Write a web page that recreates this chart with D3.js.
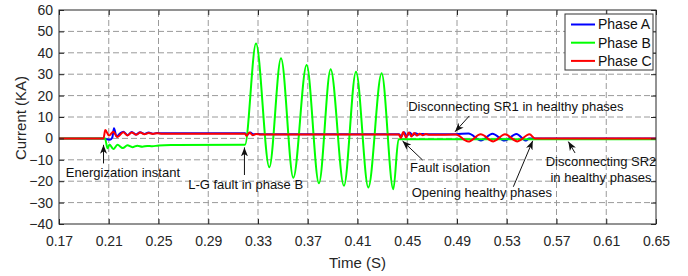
<!DOCTYPE html>
<html><head><meta charset="utf-8">
<script src="https://cdn.jsdelivr.net/npm/d3@7"></script>
<style>body{margin:0;background:#fff} text{font-family:Arial,"Liberation Sans",sans-serif}</style>
</head><body><svg id="chart" width="688" height="276"></svg>
<script>
// ---- data ----
const xTicks = [0.17,0.21,0.25,0.29,0.33,0.37,0.41,0.45,0.49,0.53,0.57,0.61,0.65];
const xTickLabels = ["0.17","0.21","0.25","0.29","0.33","0.37","0.41","0.45","0.49","0.53","0.57","0.61","0.65"];
const yTicks = [-40,-30,-20,-10,0,10,20,30,40,50,60];
const seriesNames = ["Phase A","Phase B","Phase C"];
const seriesColors = ["#0000ff","#00ff00","#ff0000"];

// [time (s), current (kA)]
const phaseA = [[0.17,0],[0.2062,0],[0.2082,-0.4],[0.2110,-0.6],[0.2128,0.3],[0.2142,4.7],[0.2163,0.9],[0.2190,2.3],[0.2217,3.1],[0.2251,1.5],[0.2285,3.0],[0.2319,1.8],[0.2353,2.9],[0.2387,2.1],[0.2421,2.7],[0.2455,2.2],[0.2489,2.5],[0.2530,2.35],[0.3195,2.35],[0.3212,1.7],[0.3238,2.8],[0.3262,1.9],[0.3290,2.1],[0.3320,1.95],[0.4435,1.95],[0.4452,0.8],[0.4474,2.9],[0.4497,1.1],[0.4520,2.7],[0.4543,1.5],[0.4567,2.4],[0.4590,1.8],[0.4615,2.1],[0.4640,1.95],[0.4889,1.95],[0.4992,2.3],[0.5093,-1.0],[0.5185,2.2],[0.5282,-1.0],[0.5378,2.1],[0.5455,-1.0],[0.5480,0],[0.65,0]];
const phaseB = [[0.17,0],[0.2070,0],[0.2090,-4.6],[0.2106,-2.8],[0.2137,-5.0],[0.2170,-3.0],[0.2213,-4.5],[0.2250,-3.2],[0.2290,-4.1],[0.2330,-3.4],[0.2370,-3.9],[0.2410,-3.5],[0.2450,-3.7],[0.2500,-3.3],[0.2600,-3.1],[0.3195,-3.0],[0.3284,44.4],[0.3391,-13.5],[0.3485,37.4],[0.3584,-18.4],[0.3691,34.3],[0.3790,-21.0],[0.3884,32.3],[0.3991,-22.1],[0.4088,31.2],[0.4187,-22.9],[0.4294,30.4],[0.4388,-23.8],[0.4430,-0.4],[0.65,-0.4]];
const phaseC = [[0.17,0],[0.2058,0],[0.2072,3.9],[0.2102,1.3],[0.2137,3.1],[0.2169,0.6],[0.2217,2.9],[0.2251,1.4],[0.2285,2.8],[0.2319,1.7],[0.2353,2.7],[0.2387,1.9],[0.2421,2.5],[0.2455,2.1],[0.2489,2.4],[0.2530,2.2],[0.3195,2.2],[0.3208,1.2],[0.3232,2.8],[0.3258,1.5],[0.3285,2.1],[0.3320,1.8],[0.4432,1.8],[0.4448,0.2],[0.4468,3.0],[0.4490,0.4],[0.4512,2.8],[0.4533,0.9],[0.4556,2.5],[0.4578,1.3],[0.4600,2.2],[0.4625,1.5],[0.4650,2.0],[0.4680,1.7],[0.4889,1.8],[0.4991,-1.5],[0.5090,1.9],[0.5192,-1.4],[0.5286,1.9],[0.5386,-1.4],[0.5483,1.9],[0.5527,0],[0.65,0]];

// annotations in data coordinates: text lines, text anchor point, arrow tail -> head
const annotations = [
  {lines:["Energization instant"], anchor:"start", t:0.1755, v:-15.7, tail:[0.2058,-11.7], head:[0.2058,-3.0]},
  {lines:["L-G fault in phase B"], anchor:"start", t:0.2739, v:-21.3, tail:[0.3191,-17.1], head:[0.3191,-4.2]},
  {lines:["Disconnecting SR1 in healthy phases"], anchor:"start", t:0.4508, v:14.8, tail:[0.4999,10.5], head:[0.4884,3.1]},
  {lines:["Fault isolation"], anchor:"start", t:0.4522, v:-13.5, tail:[0.4623,-10.1], head:[0.4462,-1.2]},
  {lines:["Opening healthy phases"], anchor:"start", t:0.4536, v:-25.4, tail:[0.5353,-22.6], head:[0.5509,-1.1]},
  {lines:["Disconnecting SR2","in healthy phases"], anchor:"middle", t:0.6058, v:-10.6, tail:[0.5849,-6.8], head:[0.5795,-1.5]}
];

// ---- layout ----
const W = 688, H = 276;
const margin = {left:59, right:32, top:10, bottom:52};
const svg = d3.select("#chart");
const x = d3.scaleLinear().domain([0.17,0.65]).range([margin.left, W - margin.right]);
const y = d3.scaleLinear().domain([-40,60]).range([H - margin.bottom, margin.top]);
const axisColor = "#262626";

svg.append("rect").attr("width",W).attr("height",H).attr("fill","#fff");

// grid
const grid = svg.append("g");
grid.selectAll("line.gx").data(xTicks.slice(1,-1)).join("line")
  .attr("x1",d=>x(d)).attr("x2",d=>x(d)).attr("y1",y(-40)).attr("y2",y(60))
  .attr("stroke","#9a9a9a").attr("stroke-width",1).attr("stroke-dasharray","6,3");
grid.selectAll("line.gy").data(yTicks.slice(1,-1)).join("line")
  .attr("x1",x(0.17)).attr("x2",x(0.65)).attr("y1",d=>y(d)).attr("y2",d=>y(d))
  .attr("stroke","#9a9a9a").attr("stroke-width",1).attr("stroke-dasharray","6,3");

// data lines
const line = d3.line().x(d=>x(d[0])).y(d=>y(d[1])).curve(d3.curveMonotoneX);
const series = [phaseA, phaseB, phaseC];
svg.append("clipPath").attr("id","clip").append("rect")
  .attr("x",x(0.17)).attr("y",y(60)).attr("width",x(0.65)-x(0.17)).attr("height",y(-40)-y(60));
const lg = svg.append("g").attr("clip-path","url(#clip)");
series.forEach((s,i)=>{
  lg.append("path").datum(s).attr("d",line).attr("fill","none")
    .attr("stroke",seriesColors[i]).attr("stroke-width",2).attr("stroke-linejoin","round");
});

// axes (ticks inward)
const fmt = (d,i)=>xTickLabels[i];
const gx = svg.append("g").attr("transform",`translate(0,${y(-40)})`)
  .call(d3.axisBottom(x).tickValues(xTicks).tickFormat(fmt).tickSize(-5).tickPadding(12));
const gxt = svg.append("g").attr("transform",`translate(0,${y(60)})`)
  .call(d3.axisTop(x).tickValues(xTicks).tickFormat("").tickSize(-5));
const gy = svg.append("g").attr("transform",`translate(${x(0.17)},0)`)
  .call(d3.axisLeft(y).tickValues(yTicks).tickSize(-5).tickPadding(6));
const gyr = svg.append("g").attr("transform",`translate(${x(0.65)},0)`)
  .call(d3.axisRight(y).tickValues(yTicks).tickFormat("").tickSize(-5));
[gx,gxt,gy,gyr].forEach(g=>{
  g.select(".domain").remove();
  g.selectAll("line").attr("stroke",axisColor);
  g.selectAll("text").attr("fill",axisColor).style("font-size","14px").style("font-family","Arial,'Liberation Sans',sans-serif");
});

// box
svg.append("rect").attr("x",x(0.17)).attr("y",y(60))
  .attr("width",x(0.65)-x(0.17)).attr("height",y(-40)-y(60))
  .attr("fill","none").attr("stroke",axisColor).attr("stroke-width",1);

// axis labels
svg.append("text").attr("x",(x(0.17)+x(0.65))/2).attr("y",268).attr("text-anchor","middle")
  .attr("fill",axisColor).style("font-size","15px").text("Time (S)");
svg.append("text").attr("transform",`translate(26,${(y(60)+y(-40))/2+1}) rotate(-90)`)
  .attr("text-anchor","middle").attr("fill",axisColor).style("font-size","15px").text("Current (KA)");

// annotations
const defs = svg.append("defs");
defs.append("marker").attr("id","arrow").attr("markerUnits","userSpaceOnUse")
  .attr("markerWidth",10).attr("markerHeight",7).attr("refX",9).attr("refY",3.5)
  .attr("orient","auto")
  .append("path").attr("d","M0,0 L9,3.5 L0,7 L2.5,3.5 Z").attr("fill","#111");
const ag = svg.append("g");
annotations.forEach(a=>{
  ag.append("line").attr("x1",x(a.tail[0])).attr("y1",y(a.tail[1]))
    .attr("x2",x(a.head[0])).attr("y2",y(a.head[1]))
    .attr("stroke","#111").attr("stroke-width",1).attr("marker-end","url(#arrow)");
  a.lines.forEach((l,i)=>{
    ag.append("text").attr("x",x(a.t)).attr("y",y(a.v)+i*16.7).attr("dy","0.35em")
      .attr("text-anchor",a.anchor).attr("fill","#111").style("font-size","13px").text(l);
  });
});

// legend
const leg = svg.append("g");
leg.append("rect").attr("x",565).attr("y",14).attr("width",88).attr("height",56)
  .attr("fill","#fff").attr("stroke","#333").attr("stroke-width",1);
seriesNames.forEach((n,i)=>{
  const cy = 24.5 + i*18.2;
  leg.append("line").attr("x1",571).attr("x2",595).attr("y1",cy).attr("y2",cy)
    .attr("stroke",seriesColors[i]).attr("stroke-width",2);
  leg.append("text").attr("x",598).attr("y",cy).attr("dy","0.35em")
    .attr("fill","#111").style("font-size","14px").text(n);
});
</script></body></html>
